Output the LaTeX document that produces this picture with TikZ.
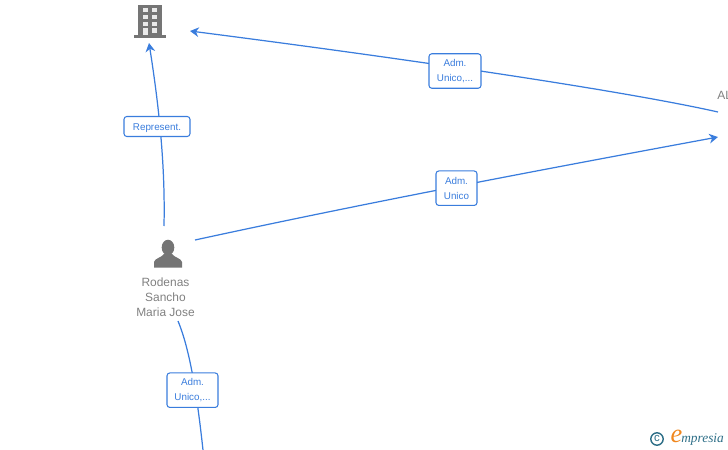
\documentclass[tikz,border=0pt]{standalone}
\usepackage{xcolor}
\usepackage{fontspec}
\setmainfont{Liberation Sans}
\newfontfamily\logofont{Liberation Serif}
\usetikzlibrary{arrows.meta,positioning}
\definecolor{linkBlue}{RGB}{58,125,221}
\definecolor{iconGray}{RGB}{117,117,117}
\definecolor{nameGray}{RGB}{128,128,128}
\definecolor{logoTeal}{RGB}{45,110,135}
\definecolor{logoOrange}{RGB}{240,135,30}
\tikzset{
  link/.style={draw=linkBlue,line width=0.7pt},
  arr/.style={link,-{Stealth[length=5pt,width=5.5pt]}},
  tag/.style={draw=linkBlue,fill=white,rounded corners=1.6pt,line width=0.6pt,inner sep=0pt,
              text=linkBlue,font=\fontsize{5.6}{8.5}\selectfont,align=center,minimum height=0.69cm,
              execute at begin node={\rule{0pt}{5.3pt}}},
  holder/.style={text=nameGray,font=\fontsize{6.8}{8.5}\selectfont,align=center,inner sep=0pt},
}

\begin{document}
\begin{tikzpicture}[x=0.02cm,y=-0.02cm]
  \useasboundingbox (0,0) rectangle (728,450);
  \clip (0,0) rectangle (728,450);

  % end points of the links
  \coordinate (bldgS) at (149,43);
  \coordinate (bldgE) at (190,31);
  \coordinate (perN) at (164,226);
  \coordinate (perE) at (195,240);
  \coordinate (perS) at (178,321);
  \coordinate (alW1) at (718,112);
  \coordinate (alW2) at (718,137);
  \coordinate (offS) at (203,450);

  \draw[arr](perN) .. controls (165,180) and (162,125) .. (bldgS);
  \draw[arr](alW1) .. controls (620,90) and (400,58) .. (bldgE);
  \draw[arr](perE) .. controls (370,202) and (540,170) .. (alW2);
  \draw[link](perS) .. controls (190,350) and (197,395) .. (offS);

  \node[tag,minimum width=1.32cm,minimum height=0.4cm] (t1) at (157,126.5) {Represent.};
  \node[tag,minimum width=1.04cm] (t2) at (455,71) {Adm.~\\Unico,...};
  \node[tag,minimum width=0.82cm] (t3) at (456.5,188.2) {Adm.~\\Unico};
  \node[tag,minimum width=1.02cm] (t4) at (192.5,390.2) {Adm.~\\Unico,...};

  % building
  \fill[iconGray] (138,5) rectangle (162,35);
  \fill[iconGray] (134,35) rectangle (166,38);
  \foreach \wy in {8,15,22}{
    \fill[white!85!iconGray] (142.7,\wy) rectangle (147.7,\wy+4.3);
    \fill[white!85!iconGray] (152.3,\wy) rectangle (157.3,\wy+4.3);
  }
  \fill[white!85!iconGray] (142.7,28) rectangle (147.7,35);
  \fill[white!85!iconGray] (152.3,28) rectangle (157.3,32.5);

  % person
  \fill[iconGray] (168,247.5) ellipse (6.3 and 7.8);
  \fill[iconGray] (154,267.5) -- (154,262) .. controls (155,258) and (161,258) .. (164,254)
    -- (172,254) .. controls (175,258) and (181,258) .. (182,262) -- (182,267.5) -- cycle;

  \node[holder] (per) at (165.5,297) {Rodenas\\Sancho\\Maria Jose};
  \node[holder,anchor=west] (al) at (717,95) {AL};

  % logo
  \draw[logoTeal,line width=0.8pt] (657,439) circle (6.2);
  \node[text=logoTeal,font=\fontsize{6.5}{7}\selectfont,inner sep=0pt] (copyr) at (657,438.5) {c};
  \node[text=logoOrange,font=\logofont\fontsize{15}{15}\selectfont\itshape,inner sep=0pt] (logoe) at (676.5,436.5) {e};
  \node[text=logoTeal,font=\logofont\fontsize{7.6}{8}\selectfont\itshape,inner sep=0pt,anchor=west] (logot) at (681,439) {mpresia};
\end{tikzpicture}
\end{document}
